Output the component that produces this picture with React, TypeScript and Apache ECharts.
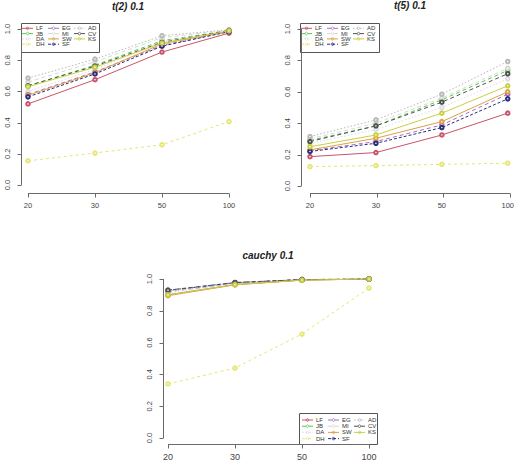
import React, { useEffect, useRef } from "react";
import * as echarts from "echarts";

const categories = ["20", "30", "50", "100"];
const seriesNames = ["LF", "JB", "DA", "DH", "EG", "MI", "SW", "SF", "AD", "CV", "KS"];
const yTicks = [0, 0.2, 0.4, 0.6, 0.8, 1.0];

// values per panel, rows in the order of seriesNames
const t2Values = [
  [0.52, 0.675, 0.852, 0.974],
  [0.636, 0.768, 0.925, 0.99],
  [0.6, 0.74, 0.92, 0.99],
  [0.155, 0.205, 0.258, 0.407],
  [0.58, 0.725, 0.895, 0.985],
  [0.66, 0.79, 0.945, 0.993],
  [0.575, 0.72, 0.905, 0.985],
  [0.565, 0.712, 0.89, 0.983],
  [0.685, 0.807, 0.957, 0.995],
  [0.636, 0.762, 0.914, 0.99],
  [0.63, 0.755, 0.91, 0.988],
];

const t5Values = [
  [0.187, 0.213, 0.325, 0.464],
  [0.29, 0.383, 0.549, 0.736],
  [0.27, 0.36, 0.5, 0.683],
  [0.123, 0.13, 0.138, 0.145],
  [0.225, 0.283, 0.389, 0.585],
  [0.3, 0.4, 0.56, 0.75],
  [0.23, 0.304, 0.41, 0.6],
  [0.22, 0.272, 0.372, 0.555],
  [0.315, 0.421, 0.585, 0.793],
  [0.283, 0.383, 0.534, 0.715],
  [0.25, 0.325, 0.464, 0.638],
];

const cauchyValues = [
  [0.9, 0.965, 0.993, 1.0],
  [0.92, 0.975, 0.996, 1.0],
  [0.91, 0.97, 0.995, 1.0],
  [0.34, 0.44, 0.654, 0.943],
  [0.92, 0.975, 0.996, 1.0],
  [0.92, 0.975, 0.995, 1.0],
  [0.895, 0.963, 0.993, 1.0],
  [0.928, 0.977, 0.996, 1.0],
  [0.925, 0.976, 0.996, 1.0],
  [0.93, 0.978, 0.996, 1.0],
  [0.9, 0.965, 0.993, 1.0],
];

const seriesColors = [
  "#c8546a", "#55c855", "#dcdcec", "#e6e673", "#a070c0", "#d8d8d0",
  "#e0a040", "#2a2a80", "#b8b8b8", "#505050", "#c8d040",
];
const seriesDash: (number[] | "solid")[] = [
  "solid", [4, 3], [1.5, 2], [3, 3], [4, 3], [4, 3],
  "solid", [3, 2], [1.5, 2], [4, 3], "solid",
];

const panels = [
  {
    title: "t(2) 0.1", values: t2Values,
    grid: { left: 28, top: 29, width: 201, height: 156 },
    yOffset: 7, xOffset: 8, titleX: 128, titleY: 1,
    legend: { x: 21, y: 23, w: 78, h: 29, row0: 5.3, pitch: 5.3, lx: 1 },
    xFont: 7.5, xMargin: 8,
  },
  {
    title: "t(5) 0.1", values: t5Values,
    grid: { left: 310, top: 29, width: 200, height: 157 },
    yOffset: 9, xOffset: 7, titleX: 410, titleY: 0,
    legend: { x: 300, y: 23, w: 79, h: 29, row0: 5.3, pitch: 5.3, lx: 1 },
    xFont: 7.5, xMargin: 8,
  },
  {
    title: "cauchy 0.1", values: cauchyValues,
    grid: { left: 168, top: 279, width: 201, height: 159 },
    yOffset: 5, xOffset: 6, titleX: 268, titleY: 250,
    legend: { x: 299, y: 413, w: 78, h: 31, row0: 7, pitch: 6.2, lx: 3 },
    xFont: 9, xMargin: 8,
  },
];

const FONT = "Liberation Sans, Arial, sans-serif";
const AXIS_COLOR = "#6a6a6a";

function legendGraphics(lg: any) {
  const children: any[] = [
    {
      type: "rect",
      shape: { x: lg.x + 0.5, y: lg.y + 0.5, width: lg.w, height: lg.h },
      style: { fill: "#fff", stroke: "#555", lineWidth: 1 },
    },
  ];
  seriesNames.forEach((name, j) => {
    const col = Math.floor(j / 4);
    const row = j % 4;
    const x0 = lg.x + lg.lx + col * 26;
    const cy = lg.y + lg.row0 + row * lg.pitch;
    const dash = seriesDash[j];
    children.push({
      type: "line",
      shape: { x1: x0, y1: cy, x2: x0 + 11, y2: cy },
      style: { stroke: seriesColors[j], lineWidth: 1, lineDash: dash === "solid" ? null : dash },
    });
    children.push({
      type: "circle",
      shape: { cx: x0 + 5.5, cy, r: 1.3 },
      style: { fill: "none", stroke: seriesColors[j], lineWidth: 0.8 },
    });
    children.push({
      type: "text",
      x: x0 + 14,
      y: cy,
      style: { text: name, fontSize: 6, fontFamily: FONT, fill: "#333", verticalAlign: "middle", align: "left" },
    });
  });
  return { type: "group", children };
}

// axis lines and ticks from the grid layout (category axis spans the grid exactly)
function axisGraphics(p: any) {
  const { left, top, width, height } = p.grid;
  const children: any[] = [];
  const style = { stroke: AXIS_COLOR, lineWidth: 1 };
  const xLineY = Math.round(top + height + p.xOffset) + 0.5;
  const yLineX = Math.round(left - p.yOffset) + 0.5;
  children.push({ type: "line", z: 50, shape: { x1: left, y1: xLineY, x2: left + width, y2: xLineY }, style });
  categories.forEach((_, c) => {
    const x = Math.round(left + (c * width) / (categories.length - 1)) + 0.5;
    children.push({ type: "line", z: 50, shape: { x1: x, y1: xLineY, x2: x, y2: xLineY + 4 }, style });
  });
  children.push({ type: "line", z: 50, shape: { x1: yLineX, y1: top, x2: yLineX, y2: top + height }, style });
  yTicks.forEach((t) => {
    const y = Math.round(top + height * (1 - t)) + 0.5;
    children.push({ type: "line", z: 50, shape: { x1: yLineX - 4, y1: y, x2: yLineX, y2: y }, style });
  });
  return { type: "group", children };
}

export default function App() {
  const ref = useRef<HTMLDivElement>(null);
  useEffect(() => {
    if (!ref.current) return;
    const chart = echarts.init(ref.current, undefined, { renderer: "svg" });
    const option: any = {
      animation: false,
      backgroundColor: "#ffffff",
      title: panels.map((p) => ({
        text: p.title,
        left: p.titleX,
        top: p.titleY,
        textAlign: "center",
        padding: 0,
        textStyle: { fontSize: 10, fontWeight: "bold", fontStyle: "italic", color: "#222", fontFamily: FONT },
      })),
      grid: panels.map((p) => ({ ...p.grid })),
      xAxis: panels.map((p, i) => ({
        type: "category",
        gridIndex: i,
        data: categories,
        boundaryGap: false,
        offset: p.xOffset,
        axisLine: { show: false },
        axisTick: { show: false },
        axisLabel: { fontSize: p.xFont, color: "#444", margin: p.xMargin, fontFamily: FONT },
        splitLine: { show: false },
      })),
      yAxis: panels.map((p, i) => ({
        type: "value",
        gridIndex: i,
        min: 0,
        max: 1,
        interval: 0.2,
        offset: p.yOffset,
        axisLine: { show: false },
        axisTick: { show: false },
        axisLabel: { rotate: 90, fontSize: 7.5, margin: 10, color: "#444", fontFamily: FONT, formatter: (v: number) => v.toFixed(1) },
        splitLine: { show: false },
      })),
      graphic: [
        ...panels.map((p) => axisGraphics(p)),
        ...panels.map((p) => legendGraphics(p.legend)),
      ],
      series: panels.flatMap((p, i) =>
        seriesNames.map((name, j) => ({
          type: "line",
          name,
          xAxisIndex: i,
          yAxisIndex: i,
          data: p.values[j],
          symbol: "emptyCircle",
          symbolSize: 3.5,
          lineStyle: { color: seriesColors[j], width: 1, type: seriesDash[j] },
          itemStyle: { color: seriesColors[j], borderWidth: 0.8 },
          emphasis: { disabled: true },
        }))
      ),
    };
    chart.setOption(option);
    return () => chart.dispose();
  }, []);
  return (
    <div
      ref={ref}
      style={{ position: "absolute", left: 0, top: 0, width: 517, height: 472, background: "#fff" }}
    />
  );
}
